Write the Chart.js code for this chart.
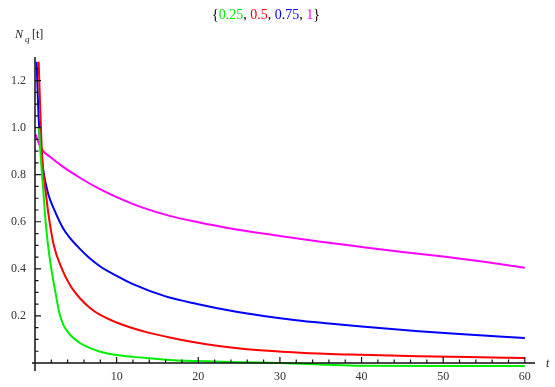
<!DOCTYPE html>
<html>
<head>
<meta charset="utf-8">
<script src="https://cdn.jsdelivr.net/npm/chart.js@4/dist/chart.umd.min.js"></script>
<style>
html,body{margin:0;padding:0;background:#fff;}
canvas{display:block;}
</style>
</head>
<body>
<canvas id="c" width="555" height="387"></canvas>
<script>
// ---- data ----
const titleParts = ["{", "0.25", ", ", "0.5", ", ", "0.75", ", ", "1", "}"];
const yLabelText = ["N", "q", "[t]"];
const xAxisName = "t";

const greenX = [0.5, 0.7, 1.0, 1.3, 1.6, 2.0, 2.5, 3.0, 3.5, 4.3, 5.5, 6.7, 8, 10, 12, 14, 17, 20, 25, 30, 35, 40, 50, 60];
const greenY = [1.0, 0.88, 0.74, 0.6, 0.5, 0.40, 0.30, 0.21, 0.16, 0.12, 0.085, 0.064, 0.048, 0.034, 0.026, 0.02, 0.012, 0.008, 0.003, 0.0, -0.006, -0.012, -0.013, -0.013];

const redX = [0.45, 0.6, 0.8, 1.0, 1.4, 1.7, 2.3, 3.3, 4.3, 5.5, 6.7, 8, 10, 11.6, 14, 18, 21, 24, 28, 33, 40, 47, 53, 60];
const redY = [1.28, 1.12, 0.93, 0.82, 0.70, 0.62, 0.50, 0.40, 0.33, 0.275, 0.235, 0.204, 0.172, 0.152, 0.128, 0.098, 0.08, 0.066, 0.053, 0.043, 0.035, 0.029, 0.025, 0.021];

const blueX = [0.2, 0.4, 0.6, 1.0, 1.6, 2.5, 3.4, 4.2, 5.5, 6.7, 8, 10, 12, 16, 20, 24, 28, 32, 36, 40, 47, 52, 60];
const blueY = [1.28, 1.08, 0.95, 0.82, 0.72, 0.64, 0.575, 0.535, 0.485, 0.445, 0.41, 0.37, 0.335, 0.283, 0.25, 0.222, 0.2, 0.182, 0.168, 0.155, 0.135, 0.123, 0.106];

const magentaX = [0.1, 0.5, 1.0, 1.8, 3.4, 5.5, 7.6, 10, 13.2, 16.5, 20, 23.4, 30, 35, 40, 45, 50, 55, 60];
const magentaY = [0.97, 0.93, 0.90, 0.877, 0.834, 0.787, 0.745, 0.705, 0.66, 0.625, 0.598, 0.575, 0.54, 0.515, 0.493, 0.472, 0.452, 0.43, 0.405];

const xMajorTicks = [10, 20, 30, 40, 50, 60];
const xTickLabels = ["10", "20", "30", "40", "50", "60"];
const yMajorTicks = [0.2, 0.4, 0.6, 0.8, 1.0, 1.2];
const yTickLabels = ["0.2", "0.4", "0.6", "0.8", "1.0", "1.2"];
const xMinorStep = 2;
const yMinorStep = 0.05;

function pts(xs, ys) { return xs.map((x, i) => ({x: x, y: ys[i]})); }

const seriesColors = ["#00ee00", "#ff0000", "#0000ff", "#ff00ff"];
const titleColors = ["#000", seriesColors[0], "#000", seriesColors[1], "#000", seriesColors[2], "#000", seriesColors[3], "#000"];

const axesPlugin = {
  id: "mmaAxes",
  afterDatasetsDraw(chart) {
    const ctx = chart.ctx;
    const xs = chart.scales.x, ys = chart.scales.y;
    const x0 = xs.getPixelForValue(0), y0 = ys.getPixelForValue(0);
    ctx.save();
    ctx.strokeStyle = "#111";
    ctx.lineWidth = 1.5;
    ctx.beginPath();
    ctx.moveTo(x0 - 3, y0); ctx.lineTo(xs.right + 2, y0);
    ctx.moveTo(x0, ys.top); ctx.lineTo(x0, y0 + 8);
    ctx.stroke();
    ctx.lineWidth = 1.2;
    ctx.beginPath();
    for (let v = xMinorStep; v <= 60.001; v += xMinorStep) {
      const p = xs.getPixelForValue(v);
      const major = Math.abs(v / 10 - Math.round(v / 10)) < 1e-6;
      ctx.moveTo(p, y0); ctx.lineTo(p, y0 - (major ? 6 : 3.5));
    }
    for (let v = yMinorStep; v <= 1.2501; v += yMinorStep) {
      const p = ys.getPixelForValue(v);
      const major = Math.abs(v / 0.2 - Math.round(v / 0.2)) < 1e-6;
      ctx.moveTo(x0, p); ctx.lineTo(x0 + (major ? 6 : 3.5), p);
    }
    ctx.stroke();
    ctx.fillStyle = "#333";
    ctx.font = "12px 'Liberation Serif'";
    ctx.textAlign = "center"; ctx.textBaseline = "middle";
    xMajorTicks.forEach((v, i) => ctx.fillText(xTickLabels[i], xs.getPixelForValue(v), y0 + 14));
    ctx.textAlign = "right";
    yMajorTicks.forEach((v, i) => ctx.fillText(yTickLabels[i], x0 - 9, ys.getPixelForValue(v)));
    ctx.textAlign = "left"; ctx.textBaseline = "alphabetic";
    ctx.fillStyle = "#222";
    ctx.font = "italic 12px 'Liberation Serif'";
    ctx.fillText(yLabelText[0], 15, 38);
    ctx.font = "italic 9px 'Liberation Serif'";
    ctx.fillText(yLabelText[1], 25, 42);
    ctx.font = "12px 'Liberation Serif'";
    ctx.fillText(yLabelText[2], 32, 38);
    ctx.font = "italic 12px 'Liberation Serif'";
    ctx.fillText(xAxisName, 546, y0 + 4);
    ctx.font = "14px 'Liberation Serif'";
    let tx = 212;
    titleParts.forEach((s, i) => {
      ctx.fillStyle = titleColors[i];
      ctx.fillText(s, tx, 19);
      tx += ctx.measureText(s).width;
    });
    ctx.restore();
  }
};

const mk = (xs, ys, c) => ({
  data: pts(xs, ys), borderColor: c, borderWidth: 2, pointRadius: 0,
  showLine: true, fill: false, cubicInterpolationMode: "monotone", clip: 10
});

new Chart(document.getElementById("c"), {
  type: "scatter",
  data: {
    datasets: [
      mk(greenX, greenY, seriesColors[0]),
      mk(redX, redY, seriesColors[1]),
      mk(blueX, blueY, seriesColors[2]),
      mk(magentaX, magentaY, seriesColors[3])
    ]
  },
  options: {
    responsive: false,
    animation: false,
    layout: {padding: {left: 35, right: 22, top: 57, bottom: 24}},
    plugins: {legend: {display: false}, tooltip: {enabled: false}, title: {display: false}},
    scales: {
      x: {type: "linear", min: 0, max: 61, display: false},
      y: {type: "linear", min: 0, max: 1.3, display: false}
    }
  },
  plugins: [axesPlugin]
});
</script>
</body>
</html>
